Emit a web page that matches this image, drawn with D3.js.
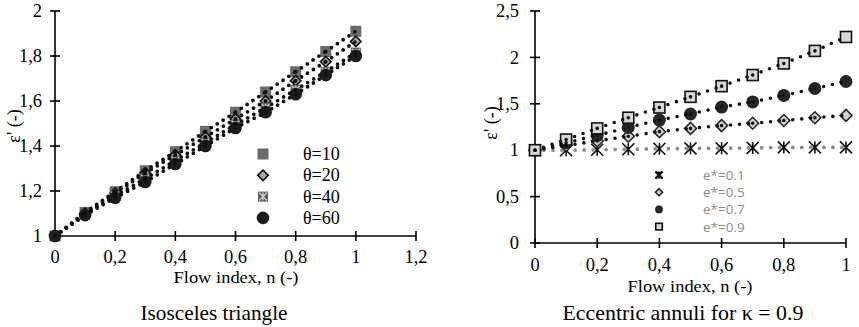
<!DOCTYPE html>
<html><head><meta charset="utf-8">
<script src="https://cdn.jsdelivr.net/npm/d3@7"></script>
<style>body{margin:0;background:#fff}svg{display:block}</style>
</head><body>
<script>
// ---- Data ----
const nValues = [0, 0.1, 0.2, 0.3, 0.4, 0.5, 0.6, 0.7, 0.8, 0.9, 1];

// Left: Isosceles triangle
const leftSeriesNames = ["θ=10", "θ=20", "θ=40", "θ=60"];
const theta10 = [1, 1.105, 1.197, 1.29, 1.375, 1.465, 1.55, 1.64, 1.73, 1.82, 1.91];
const theta20 = [1, 1.1, 1.19, 1.28, 1.36, 1.44, 1.52, 1.6, 1.69, 1.775, 1.865];
const theta40 = [1, 1.095, 1.178, 1.255, 1.335, 1.415, 1.495, 1.57, 1.65, 1.73, 1.815];
const theta60 = [1, 1.093, 1.17, 1.24, 1.32, 1.4, 1.48, 1.55, 1.63, 1.715, 1.8];
const leftXTicks = [0, 0.2, 0.4, 0.6, 0.8, 1, 1.2];
const leftYTicks = [1, 1.2, 1.4, 1.6, 1.8, 2];

// Right: Eccentric annuli
const rightSeriesNames = ["e*=0.1", "e*=0.5", "e*=0.7", "e*=0.9"];
const e01 = [1, 1.0, 1.005, 1.01, 1.015, 1.02, 1.02, 1.025, 1.03, 1.03, 1.03];
const e05 = [1, 1.05, 1.1, 1.15, 1.2, 1.235, 1.265, 1.29, 1.32, 1.35, 1.375];
const e07 = [1, 1.08, 1.16, 1.245, 1.325, 1.39, 1.465, 1.52, 1.59, 1.665, 1.74];
const e09 = [1, 1.115, 1.235, 1.35, 1.46, 1.575, 1.69, 1.81, 1.935, 2.07, 2.22];
const rightXTicks = [0, 0.2, 0.4, 0.6, 0.8, 1];
const rightYTicks = [0, 0.5, 1, 1.5, 2, 2.5];

const fmt = d => String(+d.toFixed(1)).replace(".", ",");

const svg = d3.select("body").append("svg").attr("width", 859).attr("height", 327);
const SERIF = "Liberation Serif, Times New Roman, serif";

function drawMarker(g, type, x, y, s) {
  s = s || 1;
  if (type === "sq10") {
    g.append("rect").attr("x", x - 5.5*s).attr("y", y - 5.5*s).attr("width", 11*s).attr("height", 11*s).attr("fill", "#6b6b6b");
  } else if (type === "dia20") {
    g.append("path").attr("d", d3.symbol(d3.symbolSquare, 55*s*s)()).attr("transform", `translate(${x},${y}) rotate(45)`)
      .attr("fill", "#a8a8a8").attr("stroke", "#111").attr("stroke-width", 1.6);
  } else if (type === "st40") {
    g.append("rect").attr("x", x - 5*s).attr("y", y - 5*s).attr("width", 10*s).attr("height", 10*s).attr("fill", "#5a5a5a");
    const r = 4*s;
    g.append("path").attr("d", `M${x-r},${y-r}L${x+r},${y+r}M${x-r},${y+r}L${x+r},${y-r}M${x},${y-r}L${x},${y+r}`)
      .attr("stroke", "#c8c8c8").attr("stroke-width", 1.4).attr("fill", "none");
  } else if (type === "ci60") {
    g.append("circle").attr("cx", x).attr("cy", y).attr("r", 6.3*s).attr("fill", "#1e1e1e");
  } else if (type === "ast") {
    const r = 6*s;
    g.append("path").attr("d", `M${x-r},${y-r}L${x+r},${y+r}M${x-r},${y+r}L${x+r},${y-r}M${x},${y-r}L${x},${y+r}`)
      .attr("stroke", "#111").attr("stroke-width", s < 1 ? 2.4 : 1.6).attr("fill", "none");
  } else if (type === "dia") {
    g.append("path").attr("d", d3.symbol(d3.symbolSquare, 72*s*s)()).attr("transform", `translate(${x},${y}) rotate(45)`)
      .attr("fill", "#d0d0d0").attr("stroke", "#222").attr("stroke-width", 1.5);
  } else if (type === "ci") {
    g.append("circle").attr("cx", x).attr("cy", y).attr("r", 6.5*s).attr("fill", "#262626");
  } else if (type === "sq") {
    g.append("rect").attr("x", x - 5.5*s).attr("y", y - 5.5*s).attr("width", 11*s).attr("height", 11*s)
      .attr("fill", "#d6d6d6").attr("stroke", "#111").attr("stroke-width", 1.6);
  }
}

function dottedLine(g, xs, ys, x, y, color, w, gap) {
  for (let i = 0; i < xs.length - 1; i++) {
    g.append("line").attr("x1", x(xs[i])).attr("y1", y(ys[i])).attr("x2", x(xs[i+1])).attr("y2", y(ys[i+1]))
      .attr("stroke", color).attr("stroke-width", w).attr("stroke-linecap", "round").attr("stroke-dasharray", `0,${gap}`);
  }
}

function axes(g, x, y, xTicks, yTicks, xLabY, yLabX, fs) {
  const x0 = x.range()[0], x1 = x.range()[1], y0 = y.range()[0], y1 = y.range()[1];
  g.append("line").attr("x1", x0).attr("x2", x1).attr("y1", y0).attr("y2", y0).attr("stroke", "#000").attr("stroke-width", 1.6);
  g.append("line").attr("x1", x0).attr("x2", x0).attr("y1", y0).attr("y2", y1).attr("stroke", "#000").attr("stroke-width", 1.6);
  xTicks.forEach(t => {
    g.append("line").attr("x1", x(t)).attr("x2", x(t)).attr("y1", y0 - 5).attr("y2", y0 + 5).attr("stroke", "#000").attr("stroke-width", 1.6);
    g.append("text").attr("x", x(t)).attr("y", xLabY).attr("text-anchor", "middle").attr("font-family", SERIF).attr("font-size", fs).text(fmt(t));
  });
  yTicks.forEach(t => {
    g.append("line").attr("x1", x0 - 5).attr("x2", x0 + 5).attr("y1", y(t)).attr("y2", y(t)).attr("stroke", "#000").attr("stroke-width", 1.6);
    g.append("text").attr("x", yLabX).attr("y", y(t) + fs*0.33).attr("text-anchor", "end").attr("font-family", SERIF).attr("font-size", fs).text(fmt(t));
  });
}

// ---- Left chart ----
{
  const g = svg.append("g");
  const x = d3.scaleLinear().domain([0, 1.2]).range([55, 416]);
  const y = d3.scaleLinear().domain([1, 2]).range([236, 11]);
  axes(g, x, y, leftXTicks, leftYTicks, 263, 42, 18.5);
  const series = [[theta10, "sq10"], [theta20, "dia20"], [theta40, "st40"], [theta60, "ci60"]];
  series.forEach(([vals, type]) => nValues.forEach((n, i) => drawMarker(g, type, x(n), y(vals[i]))));
  series.forEach(([vals]) => dottedLine(g, nValues, vals, x, y, "#111", 3.8, 7));
  series.forEach(([vals, type], i) => {
    const ly = 154 + i * 21.3;
    drawMarker(g, type, 263, ly);
    g.append("text").attr("x", 303).attr("y", ly + 6).attr("font-family", SERIF).attr("font-size", 18).text(leftSeriesNames[i]);
  });
  g.append("text").attr("x", 236).attr("y", 283).attr("text-anchor", "middle").attr("font-family", SERIF).attr("font-size", 17)
    .attr("textLength", 125).attr("lengthAdjust", "spacingAndGlyphs").text("Flow index, n (-)");
  g.append("text").attr("transform", "translate(20,126) rotate(-90)").attr("text-anchor", "middle").attr("font-family", SERIF).attr("font-size", 18).text("ε' (-)");
  g.append("text").attr("x", 214).attr("y", 320).attr("text-anchor", "middle").attr("font-family", SERIF).attr("font-size", 21)
    .attr("textLength", 147).attr("lengthAdjust", "spacingAndGlyphs").text("Isosceles triangle");
}

// ---- Right chart ----
{
  const g = svg.append("g");
  const x = d3.scaleLinear().domain([0, 1]).range([535, 846]);
  const y = d3.scaleLinear().domain([0, 2.5]).range([243, 11]);
  axes(g, x, y, rightXTicks, rightYTicks, 271, 519, 18.5);
  dottedLine(g, nValues, e01, x, y, "#8a8a8a", 3.8, 9);
  const series = [[e01, "ast"], [e05, "dia"], [e07, "ci"], [e09, "sq"]];
  series.forEach(([vals, type]) => nValues.forEach((n, i) => drawMarker(g, type, x(n), y(vals[i]))));
  [e05, e07, e09].forEach(vals => dottedLine(g, nValues, vals, x, y, "#111", 3.6, 9));
  series.forEach(([vals, type], i) => {
    const ly = 175 + i * 17.2;
    drawMarker(g, type, 659, ly, 0.6);
    g.append("text").attr("x", 703).attr("y", ly + 5).attr("font-family", "Open Sans, Noto Sans, sans-serif").attr("font-size", 13.5).attr("fill", "#8c8c8c").text(rightSeriesNames[i]);
  });
  g.append("text").attr("x", 690).attr("y", 292).attr("text-anchor", "middle").attr("font-family", SERIF).attr("font-size", 17)
    .attr("textLength", 125).attr("lengthAdjust", "spacingAndGlyphs").text("Flow index, n (-)");
  g.append("text").attr("transform", "translate(497,123) rotate(-90)").attr("text-anchor", "middle").attr("font-family", SERIF).attr("font-size", 18).text("ε' (-)");
  g.append("text").attr("x", 683).attr("y", 320).attr("text-anchor", "middle").attr("font-family", SERIF).attr("font-size", 21)
    .attr("textLength", 241).attr("lengthAdjust", "spacingAndGlyphs").text("Eccentric annuli for κ = 0.9");
}
</script>
</body></html>
